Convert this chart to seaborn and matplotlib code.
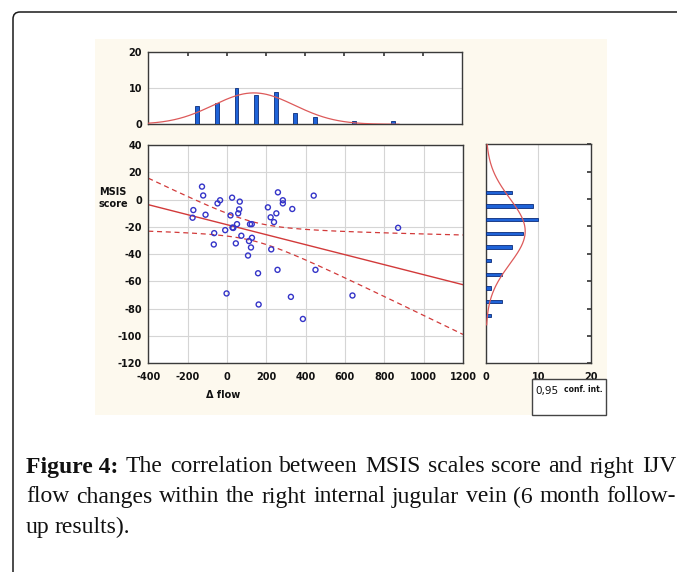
import numpy as np
import pandas as pd
import matplotlib
matplotlib.use("Agg")
import matplotlib.pyplot as plt
import seaborn as sns
from matplotlib.patches import Rectangle, FancyBboxPatch

# values: change in flow vs MSIS score
flow = [-127, -121, -171, -175, -109, -35, -48, 26, 65, 62, 57, 18, 51, 28, 32,
        -9, 117, 126, -65, -67, 73, 45, 112, 127, 122, 107, 259, 284, 284, 208,
        222, 251, 239, 332, 441, 225, 257, 450, 870, 158, -2, 161, 325, 386, 638]
msis = [9.5, 3, -7.7, -13.3, -11.1, -0.5, -2.8, 1.4, -1.5, -7.2, -10.1, -11.6, -18, -20.5, -20.8,
        -22.4, -18, -18, -24.6, -32.9, -26.5, -32.1, -30.4, -28, -35.1, -41, 5.3, -0.5, -2.8, -5.7,
        -13, -10.1, -16.5, -6.9, 2.9, -36.5, -51.5, -51.5, -20.7, -54, -68.8, -76.9, -71.3, -87.5, -70.3]

x_ticks = list(range(-400, 1201, 200))
y_ticks = list(range(-120, 41, 20))
flow_bins = list(range(-200, 901, 100))
msis_bins = list(range(-90, 11, 10))

df = pd.DataFrame({"flow": flow, "msis": msis})
W, H = 677, 572

sns.set_theme(style="white")
plt.rcParams["font.family"] = ["DejaVu Sans"]

fig = plt.figure(figsize=(W / 100, H / 100), dpi=100)
fig.patch.set_facecolor("white")

# page frame + cream panel behind the plots
fig.add_artist(FancyBboxPatch((0.13, -1.0), 10, 6.6, boxstyle="round,pad=0,rounding_size=0.07",
                              transform=fig.dpi_scale_trans, fill=False, ec="#1a1a1a", lw=1.1))
fig.add_artist(Rectangle((95 / W, 1 - 415 / H), 512 / W, 376 / H, transform=fig.transFigure,
                         fc="#FDF9EE", ec="none", zorder=-1))

def fig_rect(l, r, t, b):
    return [l / W, 1 - b / H, (r - l) / W, (b - t) / H]

ax = fig.add_axes(fig_rect(148.3, 463, 145, 363.3))
ax_top = fig.add_axes(fig_rect(148.3, 462, 51.7, 124.3))
ax_right = fig.add_axes(fig_rect(486, 590.7, 144.3, 363.3))

tick_font = dict(fontsize=7, fontweight="bold", color="#111111")
red = "#D23A3A"
bar_blue = "#1F63D8"

for a in (ax, ax_top, ax_right):
    a.set_facecolor("white")
    for s in a.spines.values():
        s.set_color("#3a3a3a")
        s.set_linewidth(1.0)

# main scatter + fit
sns.scatterplot(data=df, x="flow", y="msis", ax=ax, marker="o", s=13,
                facecolors="none", edgecolor="#3434C8", linewidth=1.0, zorder=3)

xv = np.array(flow, dtype=float)
yv = np.array(msis, dtype=float)
n = len(xv)
slope, icpt = np.polyfit(xv, yv, 1)
resid = yv - (icpt + slope * xv)
s_err = np.sqrt(np.sum(resid ** 2) / (n - 2))
sxx = np.sum((xv - xv.mean()) ** 2)
xs = np.linspace(-400, 1200, 200)
fit = icpt + slope * xs
half = 2.017 * s_err * np.sqrt(1 / n + (xs - xv.mean()) ** 2 / sxx)
sns.lineplot(x=xs, y=fit, ax=ax, color=red, lw=1.0, zorder=2)
sns.lineplot(x=xs, y=fit + half, ax=ax, color=red, lw=0.9, zorder=2).lines[-1].set_linestyle((0, (4, 3)))
sns.lineplot(x=xs, y=fit - half, ax=ax, color=red, lw=0.9, zorder=2).lines[-1].set_linestyle((0, (4, 3)))

ax.set_xlim(-400, 1200)
ax.set_ylim(-120, 40)
ax.set_xticks(x_ticks)
ax.set_yticks(y_ticks)
ax.set_xticklabels([str(v) for v in x_ticks], **tick_font)
ax.set_yticklabels([str(v) for v in y_ticks], **tick_font)
ax.grid(True, color="#D5D5D5", lw=0.8)
ax.tick_params(axis="x", length=0, pad=6)
ax.tick_params(axis="y", length=0, pad=4.5)
ax.set_xlabel("")
ax.set_ylabel("")
fig.text(113 / W, 1 - 198 / H, "MSIS\nscore", ha="center", va="center", linespacing=1.2, **tick_font)
fig.text(223 / W, 1 - 395 / H, "\u0394 flow", ha="center", va="center", **tick_font)

# top histogram of flow with normal curve
sns.histplot(x=flow, bins=flow_bins, ax=ax_top, shrink=0.2, color=bar_blue, alpha=1,
             edgecolor="#0B2C7A", linewidth=0.6, zorder=3)
gx = np.linspace(-400, 880, 300)
gy = n * 100 * np.exp(-0.5 * ((gx - xv.mean()) / xv.std(ddof=1)) ** 2) / (xv.std(ddof=1) * np.sqrt(2 * np.pi))
sns.lineplot(x=gx, y=gy, ax=ax_top, color="#DD5A5A", lw=0.9, zorder=4)
ax_top.set_xlim(-400, 1200)
ax_top.set_ylim(0, 20)
ax_top.set_yticks([0, 10, 20])
ax_top.set_yticklabels(["0", "10", "20"], **tick_font)
ax_top.set_xticks(x_ticks[1:-1])
ax_top.set_xticklabels([])
ax_top.grid(True, axis="y", color="#D5D5D5", lw=0.8)
ax_top.tick_params(axis="x", bottom=False, top=True, direction="in", length=3, color="#3a3a3a")
ax_top.tick_params(axis="y", length=0, pad=4.5)
ax_top.set_ylabel("")

# right histogram of MSIS with normal curve
sns.histplot(y=msis, bins=msis_bins, ax=ax_right, shrink=0.24, color=bar_blue, alpha=1,
             edgecolor="#0B2C7A", linewidth=0.6, zorder=3)
hy = np.linspace(40, -92, 300)
hx = n * 10 * np.exp(-0.5 * ((hy - yv.mean()) / yv.std(ddof=1)) ** 2) / (yv.std(ddof=1) * np.sqrt(2 * np.pi))
ax_right.plot(hx, hy, color="#DD5A5A", lw=0.9, zorder=4)
ax_right.set_xlim(0, 20)
ax_right.set_ylim(-120, 40)
ax_right.set_xticks([0, 10, 20])
ax_right.set_xticklabels(["0", "10", "20"], **tick_font)
ax_right.set_yticks(y_ticks)
ax_right.set_yticklabels([])
ax_right.grid(True, axis="x", color="#D5D5D5", lw=0.8)
ax_right.tick_params(axis="y", left=False, right=True, direction="in", length=3, color="#3a3a3a")
ax_right.tick_params(axis="x", direction="in", length=3, pad=6, color="#3a3a3a")
ax_right.set_xlabel("")

# confidence legend box
fig.add_artist(Rectangle((532 / W, 1 - 415 / H), 74 / W, 36 / H, transform=fig.transFigure,
                         fc="white", ec="#444444", lw=1.0, zorder=5))
fig.text(535 / W, 1 - 391 / H, "0,95", fontsize=7.5, color="#111111", va="center", zorder=6)
fig.text(564 / W, 1 - 390 / H, "conf. int.", fontsize=5.5, fontweight="bold", color="#111111", va="center", zorder=6)

# caption, justified like the page
cap_lines = [
    [("Figure 4:", "bold")] + [(w, "normal") for w in "The correlation between MSIS scales score and right IJV".split()],
    [(w, "normal") for w in "flow changes within the right internal jugular vein (6 month follow-".split()],
    [(w, "normal") for w in "up results).".split()],
]
cap_y = [467, 497, 527]
x_left, x_right = 26, 676
renderer = fig.canvas.get_renderer()
for li, (words, yy) in enumerate(zip(cap_lines, cap_y)):
    objs = []
    for w, wt in words:
        t = fig.text(0, 1 - yy / H, w, fontsize=17, family="Liberation Serif", fontweight=wt,
                     color="#111111", va="center", ha="left")
        objs.append(t)
    widths = [o.get_window_extent(renderer).width for o in objs]
    if li < 2:
        gap = (x_right - x_left - sum(widths)) / (len(objs) - 1)
    else:
        gap = 5
    cx = x_left
    for o, wd in zip(objs, widths):
        o.set_x(cx / W)
        cx += wd + gap

fig.savefig("out.png", dpi=100, facecolor="white")
